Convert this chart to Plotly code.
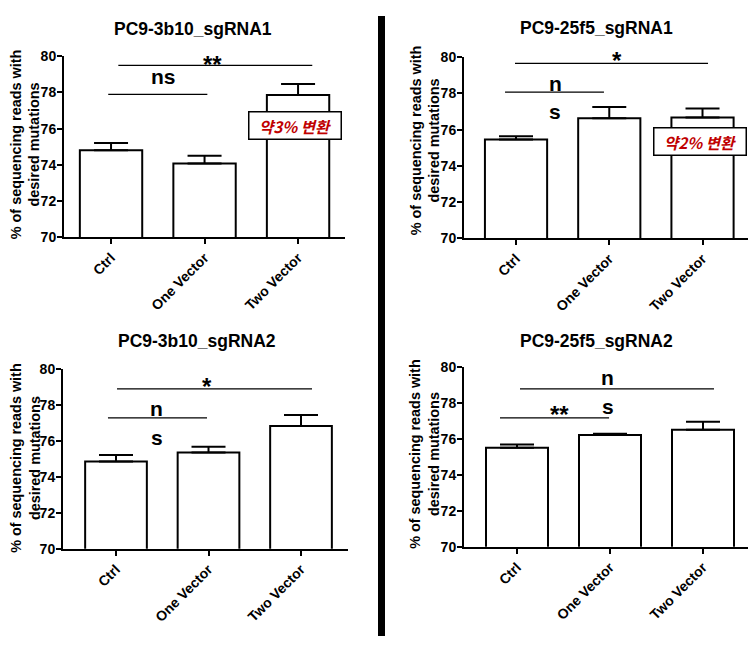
import plotly.graph_objects as go

# The page keeps its default 8px body margin. The photographed page is shown
# 8px lower and squeezed vertically by 652/668, so vertical positions are corrected.
OFFX = 8
W, H = 756 - 2 * OFFX, 652 - 2 * 8
SY = 652 / 668
TOP = 16
categories = ["Ctrl", "One Vector", "Two Vector"]

titles = ["PC9-3b10_sgRNA1", "PC9-25f5_sgRNA1", "PC9-3b10_sgRNA2", "PC9-25f5_sgRNA2"]
means_3b10_1 = [74.80, 74.07, 77.86]
sem_3b10_1 = [0.40, 0.43, 0.61]
means_25f5_1 = [75.45, 76.63, 76.67]
sem_25f5_1 = [0.19, 0.62, 0.50]
means_3b10_2 = [74.85, 75.35, 76.83]
sem_3b10_2 = [0.37, 0.32, 0.61]
means_25f5_2 = [75.51, 76.21, 76.51]
sem_25f5_2 = [0.18, 0.07, 0.44]
y_ticks = [70, 72, 74, 76, 78, 80]
y_title = "% of sequencing reads with<br>desired mutations"
notes = ["약3% 변환", "약2% 변환"]

FONT = "Liberation Sans, Arial, sans-serif"
KFONT = "Noto Sans CJK KR, sans-serif"


def fx(px):
    return min(max((px - OFFX) / W, 0), 1)


def fy(py):
    return min(max(1 - (py / SY - TOP) / H, 0), 1)


panels = [
    dict(px=(64, 345), py=(56, 237), xr=[-0.503, 2.502], means=means_3b10_1, sem=sem_3b10_1,
         title_xy=(193, 29), ylab_xy=(25, 144)),
    dict(px=(464, 751), py=(57, 238), xr=[-0.558, 2.52], means=means_25f5_1, sem=sem_25f5_1,
         title_xy=(596, 28), ylab_xy=(425, 140)),
    dict(px=(63, 348), py=(369, 549), xr=[-0.573, 2.508], means=means_3b10_2, sem=sem_3b10_2,
         title_xy=(197, 341), ylab_xy=(26, 458)),
    dict(px=(464, 751), py=(367, 547), xr=[-0.57, 2.516], means=means_25f5_2, sem=sem_25f5_2,
         title_xy=(596, 341), ylab_xy=(425, 454)),
]

fig = go.Figure()
layout = dict(width=W, height=H, margin=dict(l=0, r=0, t=0, b=0),
              paper_bgcolor="white", plot_bgcolor="white", showlegend=False)
annotations = []
shapes = []

for i, p in enumerate(panels):
    n = "" if i == 0 else str(i + 1)
    xa, ya = "x" + n, "y" + n
    x0p, x1p = p["px"]
    xr = list(p["xr"])
    if x1p > OFFX + W:  # clip the axis to the drawable area, keeping the same scale
        k = (x1p - x0p) / (xr[1] - xr[0])
        x1p = OFFX + W
        xr[1] = xr[0] + (x1p - x0p) / k
    fig.add_trace(go.Bar(
        x=categories, y=p["means"], xaxis=xa, yaxis=ya, width=0.667,
        marker=dict(color="white", line=dict(color="black", width=2)),
        error_y=dict(type="data", symmetric=False, array=p["sem"], arrayminus=[0, 0, 0],
                     color="black", thickness=2, width=17),
    ))
    layout["xaxis" + n] = dict(
        domain=[fx(x0p), fx(x1p)], anchor=ya, type="category",
        categoryorder="array", categoryarray=categories, range=xr,
        showline=True, linecolor="black", linewidth=2, ticks="outside", ticklen=5,
        tickwidth=2, tickcolor="black", tickangle=-45, showgrid=False, zeroline=False,
        tickfont=dict(family=FONT, size=14, color="black", weight="bold"))
    layout["yaxis" + n] = dict(
        domain=[fy(p["py"][1]), fy(p["py"][0])], anchor=xa, range=[70, 80],
        tickvals=y_ticks, showline=True, linecolor="black", linewidth=2, ticks="outside",
        ticklen=5, tickwidth=2, tickcolor="black", showgrid=False, zeroline=False,
        ticklabelstandoff=-2,
        tickfont=dict(family=FONT, size=14, color="black", weight="bold"))
    annotations.append(dict(
        text=titles[i], xref="paper", yref="paper", x=fx(p["title_xy"][0]),
        y=fy(p["title_xy"][1]), showarrow=False, xanchor="center", yanchor="middle",
        font=dict(family=FONT, size=17.5, color="black", weight="bold")))
    annotations.append(dict(
        text=y_title, xref="paper", yref="paper", x=fx(p["ylab_xy"][0]),
        y=fy(p["ylab_xy"][1]), showarrow=False, xanchor="center", yanchor="middle",
        textangle=-90, font=dict(family=FONT, size=14.4, color="black", weight="bold")))


def sig_line(n, x0, x1, y):
    shapes.append(dict(type="line", xref="x" + n, yref="y" + n, x0=x0, x1=x1, y0=y, y1=y,
                       line=dict(color="black", width=1.3)))


def sig_text(n, text, x, y, size=21):
    annotations.append(dict(text=text, xref="x" + n, yref="y" + n, x=x, y=y,
                            showarrow=False, xanchor="center", yanchor="middle",
                            font=dict(family=FONT, size=size, color="black", weight="bold")))


# Panel 1
sig_line("", 0.078, 2.152, 79.50)
sig_text("", "**", 1.08, 79.55, 24)
sig_line("", -0.03, 1.03, 77.90)
sig_text("", "ns", 0.56, 78.91)
# Panel 2
sig_line("2", -0.011, 2.059, 79.67)
sig_text("2", "*", 1.083, 79.85, 24)
sig_line("2", -0.118, 0.943, 78.07)
sig_text("2", "n", 0.418, 78.55)
sig_text("2", "s", 0.418, 77.0)
# Panel 3
sig_line("3", 0.011, 2.119, 78.89)
sig_text("3", "*", 0.984, 79.05, 24)
sig_line("3", -0.087, 0.984, 77.28)
sig_text("3", "n", 0.443, 77.8)
sig_text("3", "s", 0.443, 76.2)
# Panel 4
sig_line("4", 0.032, 2.118, 78.78)
sig_text("4", "n", 0.978, 79.4)
sig_line("4", -0.183, 0.99, 77.17)
sig_text("4", "**", 0.462, 77.35, 24)
sig_text("4", "s", 0.978, 77.8)

# red notes in boxes
for n, txt, x, y in [("", notes[0], 1.965, 76.16), ("2", notes[1], 1.978, 75.33)]:
    annotations.append(dict(
        text="<i>" + txt + "</i>", xref="x" + n, yref="y" + n, x=x, y=y, showarrow=False,
        xanchor="center", yanchor="middle", width=91, height=26, borderpad=0,
        bgcolor="white", bordercolor="black", borderwidth=1.5,
        font=dict(family=KFONT, size=15.5, color="#c00000", weight="bold")))

# black divider between columns
shapes.append(dict(type="rect", xref="paper", yref="paper", x0=fx(378), x1=fx(385),
                   y0=0, y1=1, fillcolor="black", line=dict(width=0), layer="above"))

layout["annotations"] = annotations
layout["shapes"] = shapes
fig.update_layout(**layout)
fig.write_html("out.html", config={"displayModeBar": False})
